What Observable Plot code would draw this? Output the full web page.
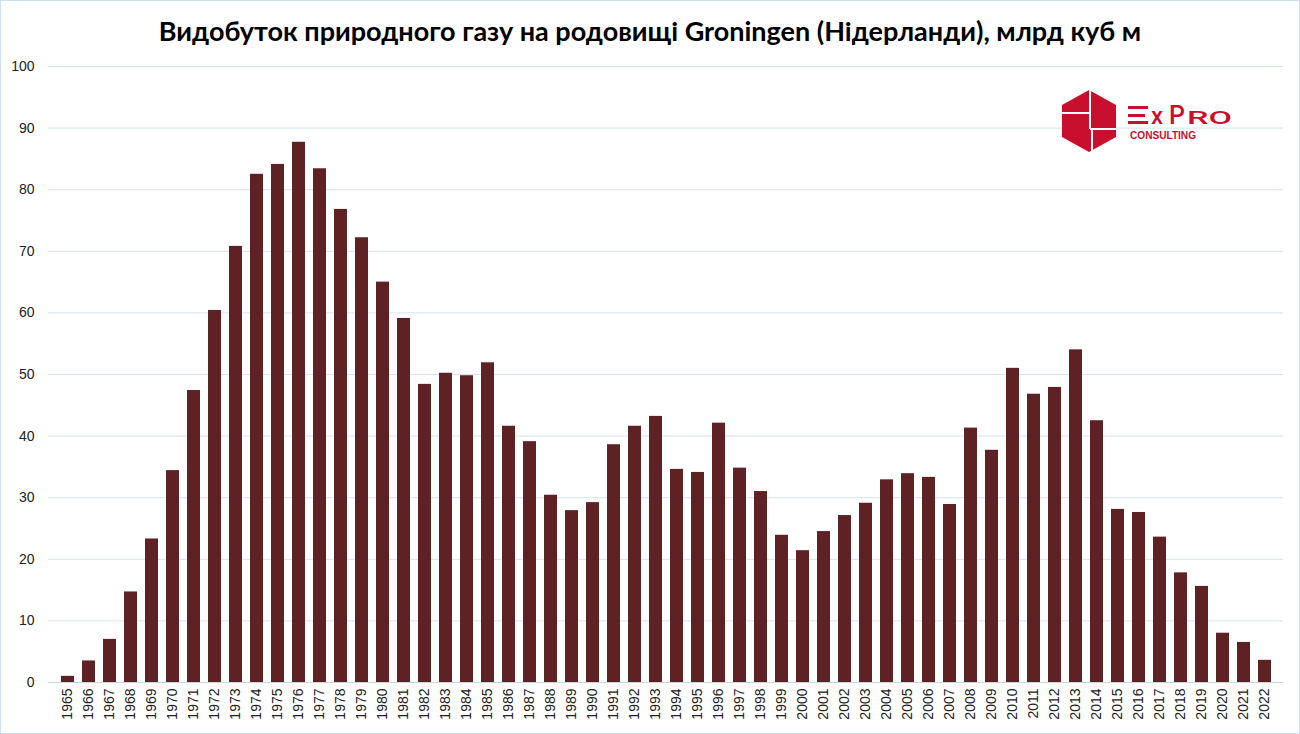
<!DOCTYPE html>
<html><head><meta charset="utf-8">
<script src="https://cdn.jsdelivr.net/npm/d3@7"></script>
<script src="https://cdn.jsdelivr.net/npm/@observablehq/plot@0.6"></script>
<style>
body{margin:0;background:#fff;}
#wrap{position:relative;width:1300px;height:734px;overflow:hidden;background:#fff;}
#title{height:50px;box-sizing:border-box;padding-top:17px;text-align:center;font-family:"Lato","Open Sans",sans-serif;font-weight:bold;font-size:27px;line-height:1;color:#000;}
#border{position:absolute;left:0;top:0;width:1300px;height:734px;box-sizing:border-box;border:1.5px solid #cddff2;pointer-events:none;}
#logo{position:absolute;left:1060px;top:88px;}
</style></head>
<body>
<div id="wrap">
<div id="title">Видобуток природного газу на родовищі Groningen (Нідерланди), млрд куб м</div>
<div id="chart"></div>
<svg id="logo" width="190" height="70" viewBox="0 0 190 70">
  <polygon points="29,2 56,17 56,49 29,64 2,49 2,17" fill="#c8102e"/>
  <line x1="30" y1="2" x2="30" y2="41" stroke="#fff" stroke-width="2"/>
  <line x1="2" y1="25" x2="30" y2="25" stroke="#fff" stroke-width="2"/>
  <line x1="30" y1="41" x2="56" y2="41" stroke="#fff" stroke-width="2"/>
  <line x1="32" y1="41" x2="32" y2="64" stroke="#fff" stroke-width="2"/>
  <rect x="68" y="18" width="20" height="3" fill="#c8102e"/>
  <rect x="68" y="26" width="17" height="3" fill="#c8102e"/>
  <rect x="68" y="33" width="20" height="3" fill="#c8102e"/>
  <text x="91" y="36" fill="#c8102e" font-family="Roboto, 'Liberation Sans', sans-serif" font-size="24" font-weight="500">x</text>
  <text x="109" y="36" fill="#c8102e" font-family="Roboto, 'Liberation Sans', sans-serif" font-size="25" font-weight="500">P</text>
  <text x="127" y="36" fill="#c8102e" font-family="Roboto, 'Liberation Sans', sans-serif" font-size="18" font-weight="500" textLength="45" lengthAdjust="spacingAndGlyphs">RO</text>
  <text x="70" y="51" fill="#c8102e" font-family="'Liberation Sans', Arial, sans-serif" font-size="10.5" font-weight="bold" textLength="66" lengthAdjust="spacingAndGlyphs">CONSULTING</text>
</svg>
<div id="border"></div>
</div>
<script>
const years = ["1965","1966","1967","1968","1969","1970","1971","1972","1973","1974","1975","1976","1977","1978","1979","1980","1981","1982","1983","1984","1985","1986","1987","1988","1989","1990","1991","1992","1993","1994","1995","1996","1997","1998","1999","2000","2001","2002","2003","2004","2005","2006","2007","2008","2009","2010","2011","2012","2013","2014","2015","2016","2017","2018","2019","2020","2021","2022"];
const production = [1.0,3.5,7.0,14.7,23.3,34.4,47.4,60.4,70.8,82.5,84.1,87.7,83.4,76.8,72.2,65.0,59.1,48.4,50.2,49.8,51.9,41.6,39.1,30.4,27.9,29.2,38.6,41.6,43.2,34.6,34.1,42.1,34.8,31.0,23.9,21.4,24.5,27.1,29.1,32.9,33.9,33.3,28.9,41.3,37.7,51.0,46.8,47.9,54.0,42.5,28.1,27.6,23.6,17.8,15.6,8.0,6.5,3.6];
const yTicks = [0,10,20,30,40,50,60,70,80,90,100];

const data = years.map((y, i) => ({year: y, value: production[i]}));

const chart = Plot.plot({
  width: 1300,
  height: 684,
  marginTop: 16,
  marginBottom: 52,
  marginLeft: 48,
  marginRight: 17,
  style: {fontFamily: "'Liberation Sans', Arial, sans-serif", fontSize: "14px", color: "#222", background: "transparent"},
  x: {domain: years, padding: 0.4, label: null, tickSize: 0, tickRotate: -90, tickPadding: 6},
  y: {domain: [0, 100], ticks: yTicks, label: null, tickSize: 0, tickPadding: 14},
  marks: [
    Plot.gridY(yTicks, {stroke: "#d6e2f1", strokeOpacity: 1, strokeWidth: 1}),
    Plot.barY(data, {x: "year", y: "value", fill: "#5f2224"}),
    Plot.ruleY([0], {stroke: "#c9d5e5", strokeWidth: 1.2})
  ]
});
document.getElementById("chart").appendChild(chart);
</script>
</body></html>
